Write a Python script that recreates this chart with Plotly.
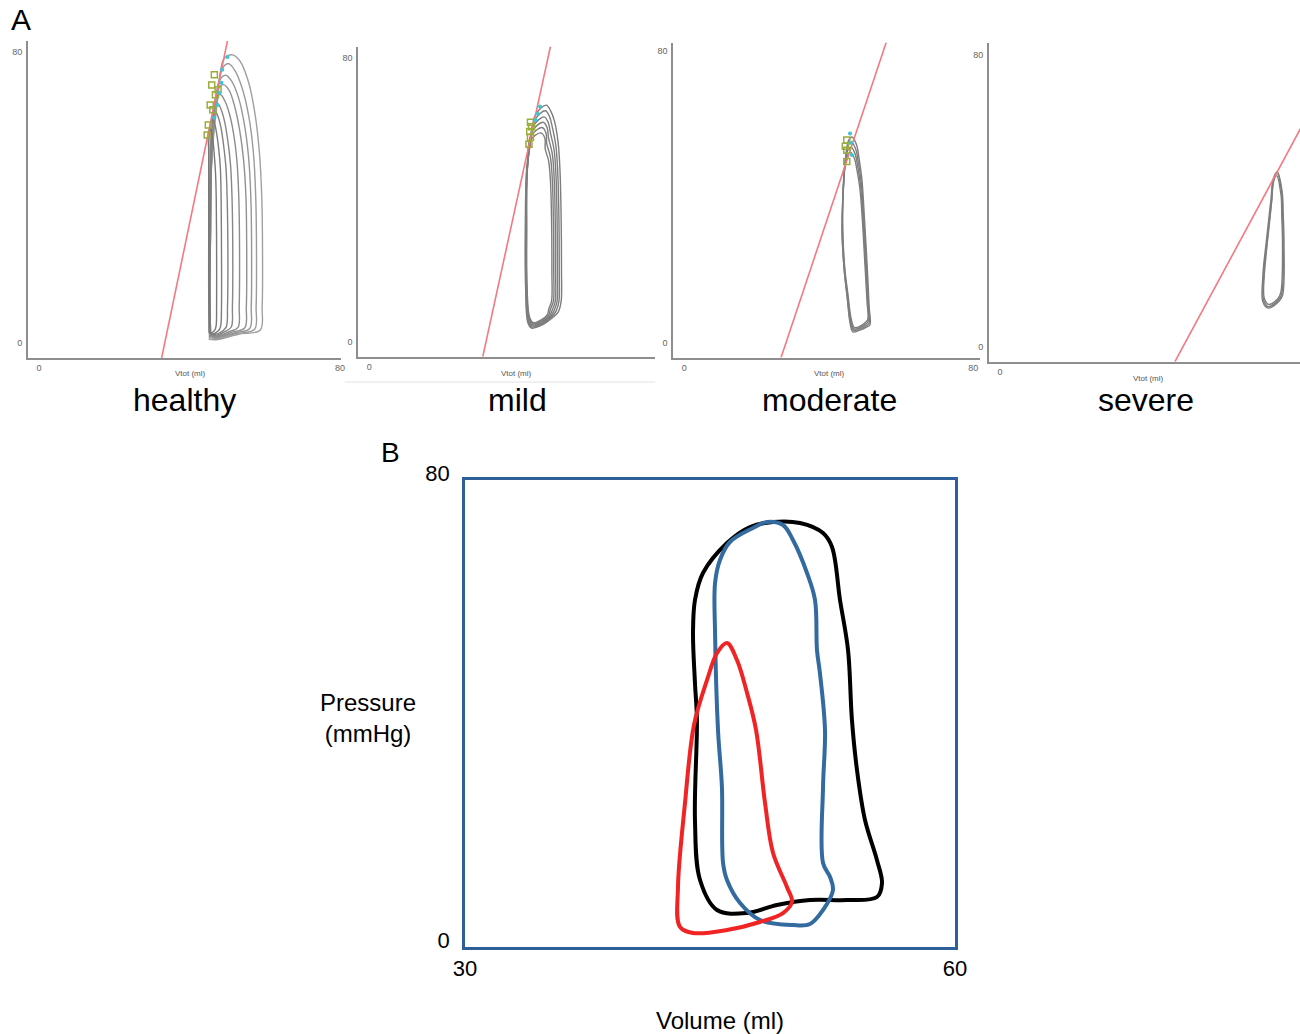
import plotly.graph_objects as go

W, H = 1300, 1034
FONT = "Liberation Sans, Arial, sans-serif"

# ---------------- Panel A data (volume ml, pressure mmHg) ----------------
healthy_v = [
    [45.3, 47.0, 53.0, 58.8, 59.3, 59.4, 59.2, 58.6, 57.4, 55.6, 53.4, 51.4, 49.1, 47.6, 46.0, 45.3, 45.1, 45.3],
    [45.4, 47.2, 52.5, 57.3, 57.7, 57.8, 57.6, 57.0, 55.8, 54.0, 52.0, 50.3, 48.5, 47.2, 45.9, 45.4, 45.2, 45.4],
    [45.5, 47.3, 52.0, 56.0, 56.4, 56.5, 56.3, 55.7, 54.6, 53.0, 51.2, 49.6, 47.9, 46.8, 45.8, 45.5, 45.3, 45.5],
    [45.5, 47.3, 51.5, 54.7, 55.1, 55.2, 55.0, 54.4, 53.4, 52.0, 50.5, 49.0, 47.4, 46.5, 45.8, 45.5, 45.3, 45.5],
    [45.6, 47.2, 50.5, 52.9, 53.2, 53.3, 53.1, 52.6, 51.8, 50.6, 49.4, 48.2, 46.9, 46.2, 45.8, 45.6, 45.4, 45.6],
    [45.6, 46.9, 49.5, 51.1, 51.4, 51.5, 51.3, 50.9, 50.2, 49.3, 48.4, 47.5, 46.4, 46.0, 45.7, 45.6, 45.4, 45.6],
    [45.6, 46.6, 48.8, 49.8, 50.1, 50.2, 50.0, 49.7, 49.1, 48.4, 47.6, 46.9, 46.0, 45.8, 45.6, 45.6, 45.4, 45.6],
    [45.5, 46.2, 47.8, 48.3, 48.5, 48.5, 48.4, 48.2, 47.8, 47.3, 46.8, 46.2, 45.5, 45.5, 45.4, 45.4, 45.3, 45.5],
    [45.2, 45.8, 46.8, 47.1, 47.2, 47.2, 47.1, 46.9, 46.6, 46.3, 45.9, 45.5, 45.0, 45.1, 45.1, 45.1, 45.1, 45.2],
]
healthy_p = [
    [1.0, 0.9, 2.4, 3.6, 10, 25, 40, 52, 63, 72, 77.5, 79.2, 78.0, 68, 52, 35, 15, 1.0],
    [1.5, 1.2, 2.6, 3.8, 10, 25, 40, 52, 62, 70, 75.0, 76.8, 75.0, 66, 50, 33, 15, 1.5],
    [1.8, 1.5, 2.8, 4.0, 10, 25, 40, 51, 60, 67.5, 72.0, 73.6, 72.0, 64, 49, 33, 15, 1.8],
    [2.0, 1.7, 3.0, 4.2, 10, 25, 40, 50, 58, 65, 69.5, 71.0, 69.5, 62, 48, 32, 15, 2.0],
    [2.2, 1.9, 3.1, 4.3, 10, 25, 40, 50, 57, 63, 66.5, 68.3, 67.0, 60, 47, 32, 15, 2.2],
    [2.4, 2.1, 3.2, 4.4, 10, 25, 40, 49, 55.5, 61, 64.2, 65.8, 64.6, 58, 46, 31, 15, 2.4],
    [2.6, 2.3, 3.3, 4.5, 10, 25, 40, 48, 54, 59, 62.2, 63.5, 62.4, 56, 45, 31, 15, 2.6],
    [2.8, 2.5, 3.5, 4.8, 10, 25, 40, 48, 53, 57, 59.8, 61.2, 60.2, 55, 44, 30, 15, 2.8],
    [3.0, 2.8, 3.7, 5.0, 10, 25, 40, 47, 51.5, 55, 57.5, 58.8, 57.7, 53, 43, 30, 15, 3.0],
]
healthy_green_v = [46.6, 45.9, 47.6, 46.9, 45.5, 46.2, 45.0, 44.7]
healthy_green_p = [73.7, 70.9, 69.6, 68.2, 65.4, 64.1, 59.9, 57.2]
healthy_cyan_v = [50.1, 48.7, 48.5, 47.9, 47.4, 46.6]
healthy_cyan_p = [78.6, 75.1, 71.5, 68.7, 65.4, 61.9]
healthy_esp_v = [32.6, 50.3]
healthy_esp_p = [-4.1, 84.1]

mild_v = [
    [43.9, 46.8, 49.4, 51.1, 51.9, 52.0, 51.9, 51.6, 51.1, 50.1, 49.0, 47.9, 45.0, 43.7, 42.6, 42.2, 42.3, 42.9],
    [44.0, 46.8, 49.2, 50.5, 51.3, 51.4, 51.3, 51.0, 50.5, 49.5, 48.7, 47.6, 44.6, 43.5, 42.6, 42.3, 42.4, 43.0],
    [44.1, 46.8, 49.0, 50.0, 50.8, 50.9, 50.8, 50.5, 50.0, 49.0, 48.4, 47.3, 44.3, 43.3, 42.6, 42.4, 42.5, 43.1],
    [44.2, 46.8, 48.8, 49.5, 50.3, 50.4, 50.3, 50.0, 49.5, 48.5, 48.1, 47.0, 44.0, 43.1, 42.6, 42.5, 42.6, 43.2],
    [44.3, 46.7, 48.5, 49.0, 49.8, 49.9, 49.8, 49.5, 49.0, 48.0, 47.8, 46.7, 43.7, 43.0, 42.6, 42.5, 42.6, 43.3],
    [44.4, 46.6, 48.2, 48.6, 49.3, 49.4, 49.3, 49.0, 48.5, 47.6, 47.5, 46.4, 43.4, 42.9, 42.6, 42.6, 42.7, 43.4],
]
mild_p = [
    [4.0, 4.9, 6.8, 8.5, 11.5, 20, 35, 48.0, 56, 62.1, 65.1, 66.6, 64.0, 57.0, 49, 32, 15, 5.5],
    [4.3, 5.2, 7.0, 8.7, 11.5, 20, 35, 47.5, 55, 60.5, 63.5, 65.0, 62.2, 55.5, 48, 32, 15, 5.8],
    [4.6, 5.5, 7.2, 8.9, 11.5, 20, 35, 47.0, 54, 58.8, 61.8, 63.3, 60.6, 54.0, 47, 32, 15, 6.0],
    [4.9, 5.8, 7.4, 9.1, 11.5, 20, 35, 46.5, 53, 57.3, 60.3, 61.8, 59.2, 53.0, 46, 32, 15, 6.3],
    [5.2, 6.1, 7.6, 9.3, 11.5, 20, 35, 46.0, 52, 55.8, 58.8, 60.3, 57.8, 52.0, 45, 32, 15, 6.6],
    [5.5, 6.4, 7.8, 9.5, 11.5, 20, 35, 45.5, 51, 54.3, 57.3, 58.8, 56.5, 51.0, 44, 32, 15, 6.9],
]
mild_green_v = [43.6, 43.9, 43.4, 43.6, 43.2]
mild_green_p = [61.8, 60.5, 59.2, 57.6, 55.6]
mild_cyan_v = [46.2, 45.6, 45.0]
mild_cyan_p = [66.2, 64.2, 62.4]
mild_esp_v = [30.7, 49.4]
mild_esp_p = [-4.0, 84.9]

moderate_v = [
    [46.7, 48.6, 50.6, 51.4, 51.2, 50.6, 49.9, 49.2, 48.4, 47.7, 46.4, 45.5, 44.9, 44.4, 43.7, 44.3, 45.1, 45.9],
    [46.9, 48.7, 50.5, 51.2, 51.0, 50.4, 49.7, 49.0, 48.2, 47.5, 46.3, 45.4, 44.8, 44.3, 43.7, 44.3, 45.1, 46.0],
    [47.0, 48.8, 50.3, 51.0, 50.8, 50.2, 49.5, 48.8, 48.0, 47.3, 46.2, 45.3, 44.7, 44.2, 43.8, 44.4, 45.2, 46.1],
    [47.1, 48.9, 50.1, 50.8, 50.6, 50.0, 49.3, 48.6, 47.8, 47.1, 46.1, 45.2, 44.6, 44.1, 43.9, 44.5, 45.3, 46.2],
]
moderate_p = [
    [3.1, 3.6, 4.5, 5.0, 10.0, 22, 34, 44.7, 50.5, 54.3, 56.4, 55.5, 52.5, 47.5, 31, 20, 12.7, 5.6],
    [3.5, 4.0, 4.9, 5.5, 10.5, 22, 34, 44.0, 49.5, 53.0, 55.0, 54.2, 51.5, 46.5, 31, 20, 13.0, 6.0],
    [3.9, 4.4, 5.3, 6.0, 11.0, 22, 34, 43.3, 48.5, 51.8, 53.6, 52.8, 50.3, 45.5, 31, 20, 13.3, 6.4],
    [4.3, 4.8, 5.7, 6.5, 11.5, 22, 34, 42.6, 47.5, 50.6, 52.2, 51.4, 49.2, 44.5, 31, 20, 13.6, 6.8],
]
moderate_green_v = [45.0, 45.0, 45.0, 44.6]
moderate_green_p = [55.6, 52.8, 49.7, 53.9]
moderate_cyan_v = [45.9, 46.4, 46.2]
moderate_cyan_p = [57.4, 51.5, 54.8]
moderate_esp_v = [26.8, 56.3]
moderate_esp_p = [-3.9, 83.4]

severe_v = [
    [70.8, 72.1, 74.8, 75.7, 76.1, 75.9, 75.7, 74.4, 73.5, 73.0, 72.3, 71.7, 71.0, 70.8],
    [71.0, 72.2, 74.7, 75.5, 75.9, 75.7, 75.5, 74.3, 73.5, 73.0, 72.4, 71.8, 71.2, 71.0],
    [70.6, 72.0, 74.9, 75.9, 76.3, 76.1, 75.8, 74.5, 73.4, 72.8, 72.1, 71.5, 70.8, 70.6],
]
severe_p = [
    [12.8, 11.0, 12.8, 14.6, 28.4, 36, 42.1, 47.6, 45.7, 40.3, 34, 28.4, 22, 19.2],
    [13.3, 11.6, 13.2, 15.2, 28.4, 36, 41.6, 46.9, 45.2, 40.0, 34, 28.4, 22, 19.5],
    [12.4, 10.6, 12.4, 14.0, 28.4, 36, 42.5, 48.0, 46.0, 40.5, 34, 28.4, 22, 19.0],
]
severe_esp_v = [47.0, 82.0]
severe_esp_p = [-4.1, 62.2]

panel_names = ["healthy", "mild", "moderate", "severe"]
axis_ticks_A = [0, 80]

# ---------------- Panel B data ----------------
black_v = [45.43, 47.27, 49.10, 51.12, 53.39, 55.22, 55.53, 55.22, 54.49, 54.00, 53.69, 53.45, 52.96,
           52.47, 51.92, 50.51, 48.86, 47.45, 46.04, 44.57, 44.08, 43.96, 44.08, 44.20, 44.08, 44.39]
black_p = [6.34, 5.82, 7.20, 8.05, 8.05, 8.57, 10.96, 14.90, 21.76, 30.32, 38.89, 50.88, 59.44,
           68.52, 70.92, 72.63, 72.81, 71.95, 69.21, 64.07, 59.44, 53.79, 45.23, 38.89, 21.76, 11.48]
blue_v = [45.80, 46.04, 46.84, 48.06, 50.08, 51.12, 51.92, 52.53, 52.35, 51.92, 51.92, 52.04, 51.73,
          51.55, 51.43, 50.94, 50.08, 49.47, 48.49, 47.63, 46.22, 45.61, 45.31, 45.31, 45.49, 45.73]
blue_p = [14.39, 11.48, 7.54, 4.63, 3.77, 3.94, 6.34, 9.76, 11.99, 14.39, 27.41, 37.17, 46.94,
          50.88, 59.44, 64.07, 69.72, 72.29, 72.81, 71.78, 69.38, 66.30, 62.36, 53.79, 37.17, 27.41]
red_v = [43.16, 43.96, 46.04, 48.06, 49.47, 50.02, 49.71, 48.86, 48.37, 47.82, 47.27, 46.65, 46.04,
         45.43, 44.82, 44.02, 43.47, 43.04]
red_p = [3.43, 2.40, 2.91, 4.28, 5.82, 7.71, 10.28, 16.10, 24.67, 37.17, 43.51, 49.17, 52.08,
         50.37, 45.74, 38.03, 24.67, 10.28]
b_xticks = [30, 60]
b_yticks = [0, 80]

# ---------------- layout geometry (pixels) ----------------
def px_x(x):
    return x / W

def px_y(y):
    return 1 - y / H

a_axes = [
    dict(x0=28, x1=341.2, y0=41, y1=358, xr=[-2.9, 80.3], yr=[-4.12, 83.0]),
    dict(x0=358.3, x1=655, y0=46.7, y1=356.7, xr=[-2.98, 77.3], yr=[-4.04, 83.0]),
    dict(x0=673.3, x1=980, y0=42.7, y1=357.7, xr=[-3.05, 81.9], yr=[-3.94, 82.2]),
    dict(x0=989, x1=1300, y0=43.3, y1=361.7, xr=[-2.96, 80.6], yr=[-4.11, 83.2]),
]

fig = go.Figure()

loop_sets = [
    (healthy_v, healthy_p, healthy_esp_v, healthy_esp_p, healthy_green_v, healthy_green_p, healthy_cyan_v, healthy_cyan_p),
    (mild_v, mild_p, mild_esp_v, mild_esp_p, mild_green_v, mild_green_p, mild_cyan_v, mild_cyan_p),
    (moderate_v, moderate_p, moderate_esp_v, moderate_esp_p, moderate_green_v, moderate_green_p, moderate_cyan_v, moderate_cyan_p),
    (severe_v, severe_p, severe_esp_v, severe_esp_p, [], [], [], []),
]

for i, (lv, lp, ev, ep, gv, gp, cv, cp) in enumerate(loop_sets):
    xa = "x" if i == 0 else f"x{i+1}"
    ya = "y" if i == 0 else f"y{i+1}"
    n = len(lv)
    for k, (vv, pp) in enumerate(zip(lv, lp)):
        shade = 160 - int(40 * k / max(n - 1, 1)) if i == 0 else 125
        col = f"rgb({shade},{shade},{shade})"
        fig.add_trace(go.Scatter(
            x=vv + [vv[0]], y=pp + [pp[0]], mode="lines",
            line=dict(color=col, width=1.4, shape="spline", smoothing=1.0),
            xaxis=xa, yaxis=ya, showlegend=False, hoverinfo="skip"))
    fig.add_trace(go.Scatter(x=ev, y=ep, mode="lines",
                             line=dict(color="#f27a80", width=1.6),
                             xaxis=xa, yaxis=ya, showlegend=False, hoverinfo="skip"))
    if gv:
        fig.add_trace(go.Scatter(x=gv, y=gp, mode="markers",
                                 marker=dict(symbol="square-open", size=6, color="#9aac3a", line=dict(width=1.5)),
                                 xaxis=xa, yaxis=ya, showlegend=False, hoverinfo="skip"))
        fig.add_trace(go.Scatter(x=cv, y=cp, mode="markers",
                                 marker=dict(symbol="circle", size=4, color="#3fc3d6"),
                                 xaxis=xa, yaxis=ya, showlegend=False, hoverinfo="skip"))

# Panel B loops
for vv, pp, col in [(black_v, black_p, "#000000"), (blue_v, blue_p, "#336aa0"), (red_v, red_p, "#f02424")]:
    fig.add_trace(go.Scatter(
        x=vv + [vv[0]], y=pp + [pp[0]], mode="lines",
        line=dict(color=col, width=4, shape="spline", smoothing=1.0),
        xaxis="x5", yaxis="y5", showlegend=False, hoverinfo="skip"))

layout = dict(
    width=W, height=H, margin=dict(l=0, r=0, t=0, b=0, pad=0, autoexpand=False),
    paper_bgcolor="white", plot_bgcolor="rgba(0,0,0,0)",
    font=dict(family=FONT, color="black"),
    showlegend=False,
)

for i, a in enumerate(a_axes):
    xk = "xaxis" if i == 0 else f"xaxis{i+1}"
    yk = "yaxis" if i == 0 else f"yaxis{i+1}"
    yref = "y" if i == 0 else f"y{i+1}"
    xref = "x" if i == 0 else f"x{i+1}"
    layout[xk] = dict(domain=[px_x(a["x0"]), px_x(a["x1"])], range=a["xr"], anchor=yref,
                      showline=True, linecolor="#8e8e8e", linewidth=2, showgrid=False, zeroline=False,
                      tickvals=axis_ticks_A, ticks="", tickfont=dict(size=9, color="#666"),
                      automargin=False, fixedrange=True)
    layout[yk] = dict(domain=[px_y(a["y1"]), px_y(a["y0"])], range=a["yr"], anchor=xref,
                      showline=True, linecolor="#8e8e8e", linewidth=2, showgrid=False, zeroline=False,
                      tickvals=axis_ticks_A, ticks="", tickfont=dict(size=9, color="#666"),
                      ticklabelstandoff=2, automargin=False, fixedrange=True)

layout["xaxis5"] = dict(domain=[px_x(465), px_x(955)], range=[30, 60], anchor="y5",
                        showline=True, mirror=True, linecolor="#2f5f98", linewidth=2.5,
                        showgrid=False, zeroline=False, tickvals=b_xticks, ticks="",
                        tickfont=dict(size=22, color="black"), ticklabelstandoff=0,
                        automargin=False, fixedrange=True)
layout["yaxis5"] = dict(domain=[px_y(947), px_y(480)], range=[0, 80], anchor="x5",
                        showline=True, mirror=True, linecolor="#2f5f98", linewidth=2.5,
                        showgrid=False, zeroline=False, tickvals=b_yticks, ticks="",
                        tickfont=dict(size=22, color="black"), ticklabelstandoff=8,
                        ticklabelshift=-7, automargin=False, fixedrange=True)

ann = []
def add_text(txt, x, y, size, color="black"):
    ann.append(dict(text=txt, x=px_x(x), y=px_y(y), xref="paper", yref="paper",
                    xanchor="center", yanchor="middle", showarrow=False,
                    font=dict(size=size, color=color, family=FONT)))

add_text("A", 21, 20, 30)
for name, cx in zip(panel_names, [184, 517, 829, 1146]):
    add_text(name, cx, 400, 32)
for cx, cy in [(190, 373), (516, 373), (829, 373), (1148, 378)]:
    add_text("Vtot (ml)", cx, cy, 8, "#555")
add_text("B", 390, 453, 28)
add_text("Pressure<br>(mmHg)", 368, 718, 24)
add_text("Volume (ml)", 720, 1020, 24)
layout["annotations"] = ann

layout["shapes"] = [dict(type="line", xref="paper", yref="paper",
                         x0=px_x(345), x1=px_x(655), y0=px_y(382), y1=px_y(382),
                         line=dict(color="#e2e2e2", width=1))]

fig.update_layout(**layout)
fig.write_html("out.html", config={"displayModeBar": False},
               post_script="document.body.style.margin='0px';document.body.style.overflow='hidden';")
